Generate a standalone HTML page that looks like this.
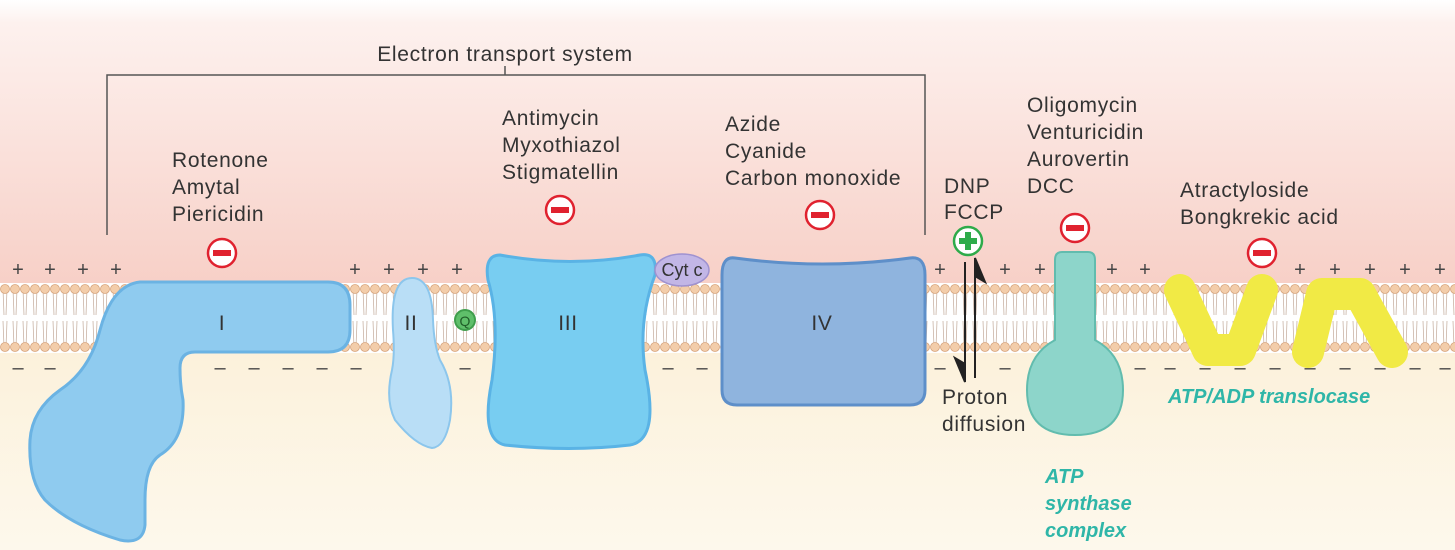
<!DOCTYPE html>
<html><head><meta charset="utf-8"><style>
html,body{margin:0;padding:0;background:#fff}
svg{display:block;font-family:"Liberation Sans",sans-serif}
.t{font-size:21px;fill:#333;letter-spacing:0.7px}
.c{font-size:20px;fill:#444}
</style></head><body>
<svg width="1455" height="550" viewBox="0 0 1455 550">
<defs>
<linearGradient id="top" x1="0" y1="0" x2="0" y2="1">
<stop offset="0" stop-color="#ffffff"/><stop offset="0.08" stop-color="#fdf1ee"/><stop offset="1" stop-color="#f7cfc6"/></linearGradient>
<linearGradient id="bot" x1="0" y1="0" x2="0" y2="1">
<stop offset="0" stop-color="#fcefd6"/><stop offset="1" stop-color="#fdf8ec"/></linearGradient>
<pattern id="lip" x="0" y="283" width="10" height="70" patternUnits="userSpaceOnUse">
<path d="M3,6 L4,32 M7,6 L6,32 M3,38 L4,64 M7,38 L6,64" stroke="#c9b3a5" stroke-width="0.8" fill="none"/>
<circle cx="5" cy="6" r="4.5" fill="#f3cdaa" stroke="#d7a47c" stroke-width="0.8"/>
<circle cx="5" cy="64" r="4.5" fill="#f3cdaa" stroke="#d7a47c" stroke-width="0.8"/>
</pattern>
</defs>
<rect x="0" y="0" width="1455" height="290" fill="url(#top)"/>
<rect x="0" y="290" width="1455" height="260" fill="url(#bot)"/>
<rect x="0" y="283" width="1455" height="70" fill="#fff" />
<rect x="0" y="283" width="1455" height="70" fill="url(#lip)"/>

<g stroke="#555" stroke-width="1.5" fill="none">
<path d="M107,235 L107,75 L925,75 L925,235 M505,75 L505,66"/></g>
<text class="t" x="505" y="61" text-anchor="middle">Electron transport system</text>

<g class="c" text-anchor="middle">
<text x="18" y="276">+</text><text x="50" y="276">+</text><text x="83" y="276">+</text><text x="116" y="276">+</text>
<text x="355" y="276">+</text><text x="389" y="276">+</text><text x="423" y="276">+</text><text x="457" y="276">+</text>
<text x="940" y="276">+</text><text x="1005" y="276">+</text><text x="1040" y="276">+</text>
<text x="1112" y="276">+</text><text x="1145" y="276">+</text>
<text x="1300" y="276">+</text><text x="1335" y="276">+</text><text x="1370" y="276">+</text><text x="1405" y="276">+</text><text x="1440" y="276">+</text>
</g>
<g class="c" text-anchor="middle">
<text x="18" y="374">–</text><text x="50" y="374">–</text>
<text x="220" y="374">–</text><text x="254" y="374">–</text><text x="288" y="374">–</text><text x="322" y="374">–</text><text x="356" y="374">–</text>
<text x="465" y="374">–</text>
<text x="668" y="374">–</text><text x="702" y="374">–</text>
<text x="940" y="374">–</text>
<text x="1005" y="374">–</text><text x="1040" y="374">–</text><text x="1110" y="374">–</text><text x="1140" y="374">–</text>
<text x="1170" y="374">–</text><text x="1205" y="374">–</text><text x="1240" y="374">–</text><text x="1275" y="374">–</text>
<text x="1310" y="374">–</text><text x="1345" y="374">–</text><text x="1380" y="374">–</text><text x="1415" y="374">–</text><text x="1445" y="374">–</text>
</g>

<path d="M140,282 L328,282 Q350,282 350,305 L350,330 Q350,352 328,352 L195,352 Q180,352 180,368 Q180,385 183,400 Q185,440 160,455 Q145,465 145,500 L145,525 Q143,545 120,540 Q70,525 45,500 Q28,480 30,440 Q32,410 60,390 Q90,370 100,330 Q112,285 140,282 Z" fill="#8fcbef" stroke="#6bb3e3" stroke-width="3"/>
<text class="t" x="222" y="330" text-anchor="middle">I</text>
<path d="M412,278 Q432,278 433,320 Q434,345 440,360 Q455,385 450,420 Q445,447 432,448 Q415,445 395,420 Q385,400 392,370 Q395,355 393,330 Q390,278 412,278 Z" fill="#b9def6" stroke="#8cc6ec" stroke-width="2"/>
<text class="t" x="411" y="330" text-anchor="middle">II</text>
<circle cx="465" cy="320" r="10" fill="#5fbf6a" stroke="#3f9e4c" stroke-width="2"/>
<text x="465" y="326" text-anchor="middle" font-size="14" fill="#1f5d28">Q</text>
<path d="M500,255 Q570,268 640,255 Q658,252 655,275 Q638,320 645,370 Q660,440 630,445 Q570,452 505,445 Q480,440 492,380 Q500,320 488,280 Q484,255 500,255 Z" fill="#78cdf1" stroke="#5ab3e5" stroke-width="3"/>
<text class="t" x="568" y="330" text-anchor="middle">III</text>
<ellipse cx="682" cy="270" rx="27" ry="16" fill="#c2b6e6" stroke="#9f92d0" stroke-width="1.5"/>
<text x="682" y="276" text-anchor="middle" font-size="18" fill="#333">Cyt c</text>
<path d="M735,258 Q823,270 910,258 Q925,256 925,275 L925,390 Q925,405 910,405 L737,405 Q722,405 722,390 L722,275 Q722,256 735,258 Z" fill="#8fb4de" stroke="#5e8fc9" stroke-width="3"/>
<text class="t" x="822" y="330" text-anchor="middle">IV</text>
<path d="M1062,252 L1088,252 Q1095,252 1095,260 L1095,340 Q1123,355 1123,390 Q1123,435 1075,435 Q1027,435 1027,390 Q1027,355 1055,340 L1055,260 Q1055,252 1062,252 Z" fill="#8dd5ca" stroke="#62bcae" stroke-width="2"/>
<g stroke="#f1ea45" stroke-width="32" stroke-linecap="round" stroke-linejoin="round" fill="none">
<path d="M1180,290 L1208,350 L1240,350 L1262,290"/>
<path d="M1308,352 L1322,294 L1360,294 L1392,352"/></g>

<g stroke="#222" stroke-width="2" fill="#222">
<line x1="965" y1="262" x2="965" y2="378"/><line x1="975" y1="262" x2="975" y2="378"/>
<path d="M975,258 L985,282 L975,276 Z"/><path d="M965,382 L955,358 L965,364 Z"/></g>

<g class="t">
<text x="172" y="167">Rotenone</text><text x="172" y="194">Amytal</text><text x="172" y="221">Piericidin</text>
<text x="502" y="125">Antimycin</text><text x="502" y="152">Myxothiazol</text><text x="502" y="179">Stigmatellin</text>
<text x="725" y="131">Azide</text><text x="725" y="158">Cyanide</text><text x="725" y="185">Carbon monoxide</text>
<text x="944" y="193">DNP</text><text x="944" y="219">FCCP</text>
<text x="1027" y="112">Oligomycin</text><text x="1027" y="139">Venturicidin</text><text x="1027" y="166">Aurovertin</text><text x="1027" y="193">DCC</text>
<text x="1180" y="197">Atractyloside</text><text x="1180" y="224">Bongkrekic acid</text>
<text x="942" y="404">Proton</text><text x="942" y="431">diffusion</text>
</g>
<g font-size="20" font-style="italic" font-weight="bold" fill="#2fb6a8">
<text x="1045" y="483">ATP</text><text x="1045" y="510">synthase</text><text x="1045" y="537">complex</text>
<text x="1168" y="403">ATP/ADP translocase</text></g>

<g fill="#fff" stroke="#e0222f" stroke-width="2.5">
<circle cx="222" cy="253" r="14"/><circle cx="560" cy="210" r="14"/><circle cx="820" cy="215" r="14"/><circle cx="1075" cy="228" r="14"/><circle cx="1262" cy="253" r="14"/></g>
<g fill="#e0222f">
<rect x="213" y="250" width="18" height="6"/><rect x="551" y="207" width="18" height="6"/><rect x="811" y="212" width="18" height="6"/><rect x="1066" y="225" width="18" height="6"/><rect x="1253" y="250" width="18" height="6"/></g>
<g>
<circle cx="968" cy="241" r="14" fill="#fff" stroke="#2eab4a" stroke-width="2.5"/>
<rect x="959" y="238" width="18" height="6" fill="#2eab4a"/><rect x="965" y="232" width="6" height="18" fill="#2eab4a"/></g>
</svg>
</body></html>
